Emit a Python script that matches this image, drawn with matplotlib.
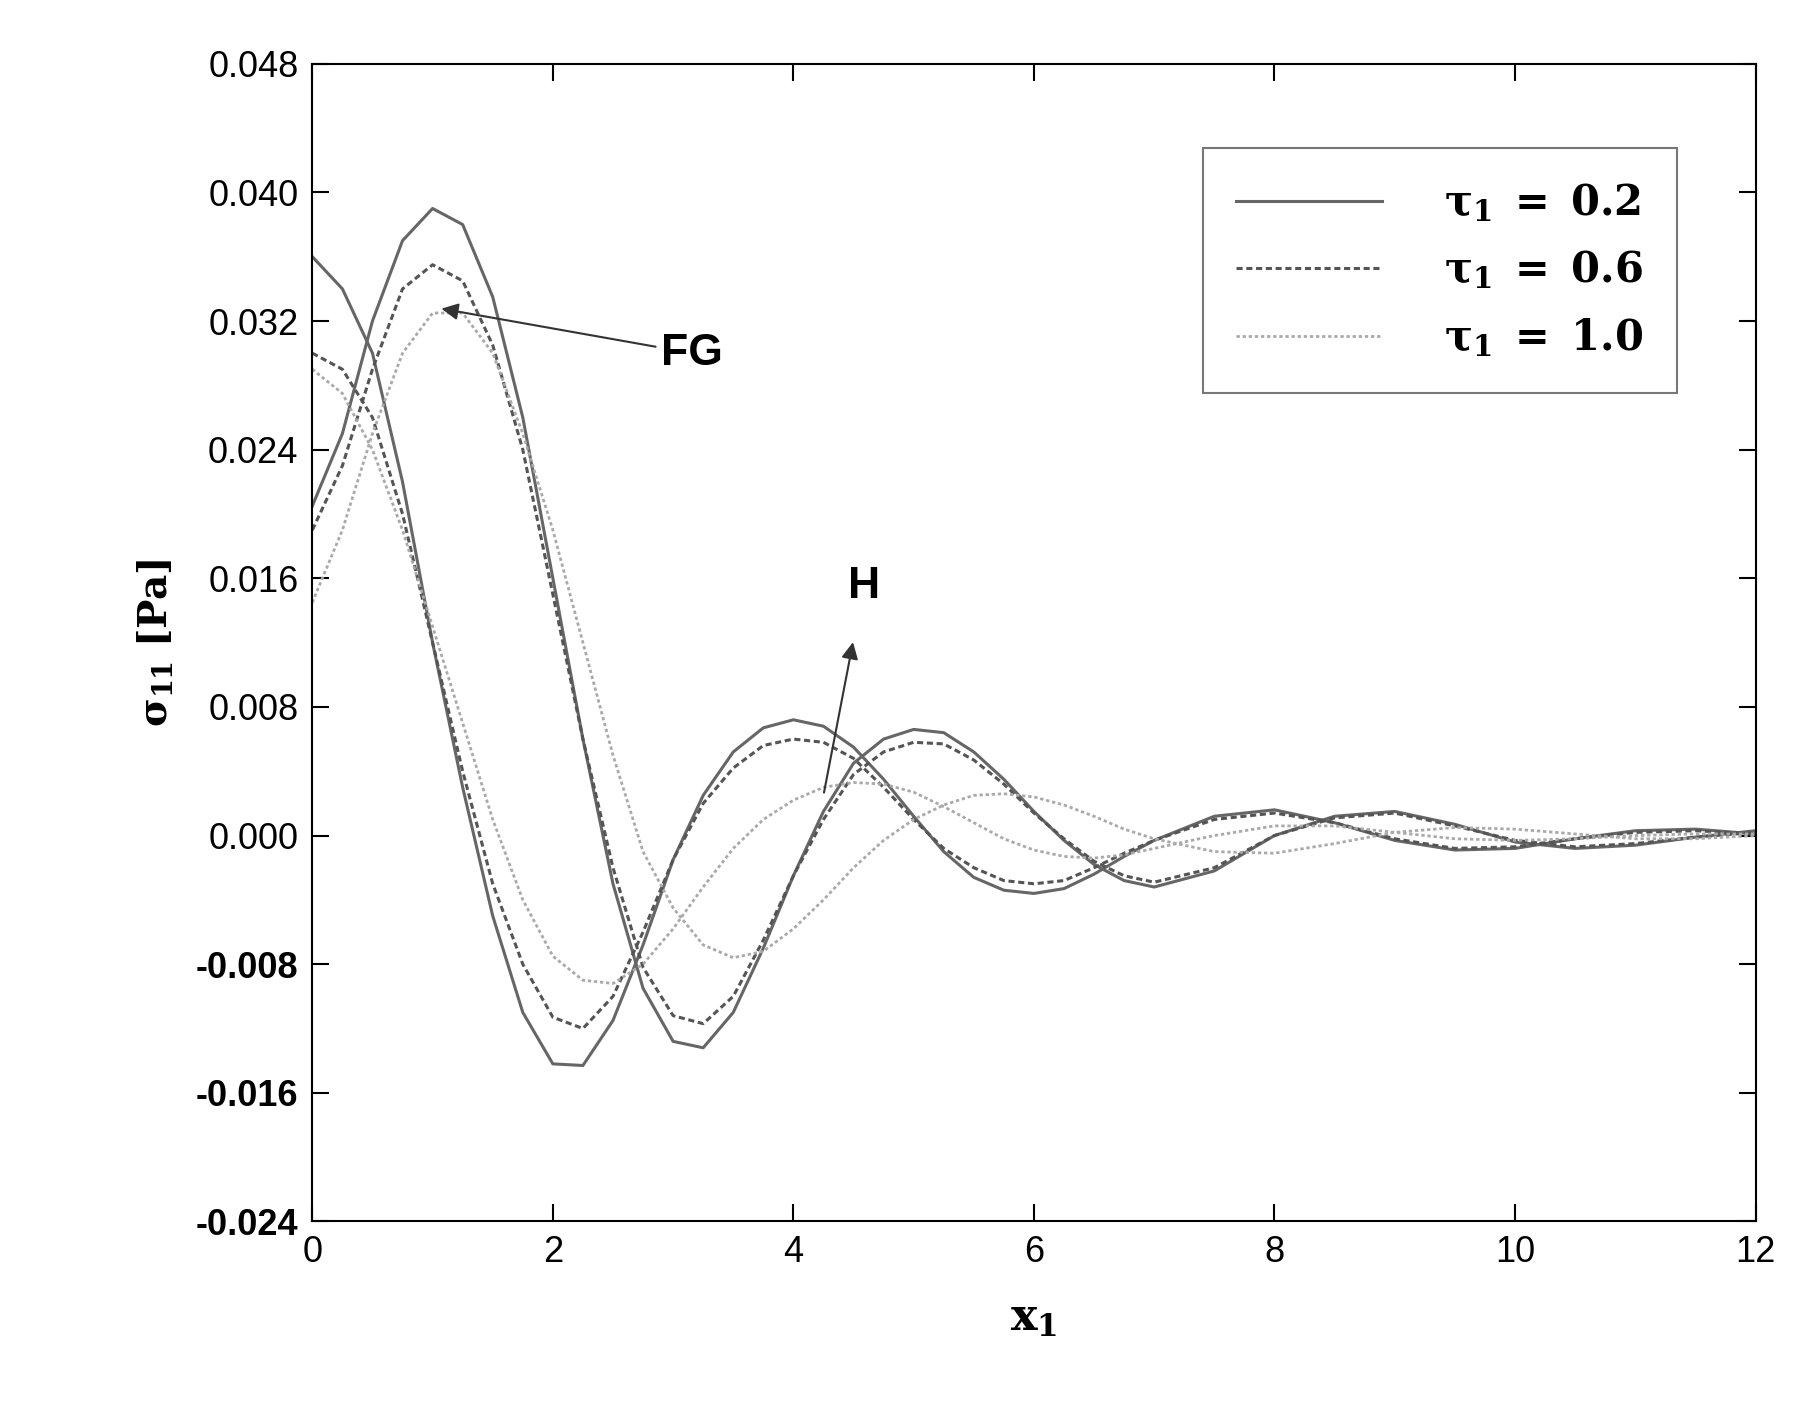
import matplotlib
matplotlib.use("Agg")
import matplotlib.pyplot as plt

x = [0,0.25,0.5,0.75,1,1.25,1.5,1.75,2,2.25,2.5,2.75,3,3.25,3.5,3.75,4,4.25,4.5,4.75,5,5.25,5.5,5.75,6,6.25,6.5,6.75,7,7.5,8,8.5,9,9.5,10,10.5,11,11.5,12]

h_02 = [0.036,0.034,0.030,0.022,0.012,0.003,-0.005,-0.011,-0.0142,-0.0143,-0.0115,-0.0068,-0.0015,0.0025,0.0052,0.0067,0.0072,0.0068,0.0055,0.0035,0.0012,-0.001,-0.0026,-0.0034,-0.0036,-0.0033,-0.0024,-0.0013,-0.0003,0.0012,0.0016,0.0008,-0.0003,-0.0009,-0.0008,-0.0002,0.0003,0.0004,0.0001]
h_06 = [0.030,0.029,0.026,0.020,0.012,0.004,-0.003,-0.008,-0.0113,-0.012,-0.010,-0.006,-0.0015,0.002,0.0042,0.0056,0.006,0.0058,0.0048,0.003,0.001,-0.0008,-0.002,-0.0028,-0.003,-0.0028,-0.002,-0.0011,-0.0003,0.001,0.0014,0.0008,-0.0002,-0.0008,-0.0007,-0.0002,0.0002,0.0003,0.0001]
h_10 = [0.029,0.0275,0.024,0.019,0.013,0.007,0.001,-0.004,-0.0075,-0.009,-0.0092,-0.008,-0.0058,-0.0032,-0.0008,0.001,0.0022,0.003,0.0033,0.0032,0.0027,0.0018,0.0008,-0.0002,-0.0009,-0.0013,-0.0014,-0.0012,-0.0008,0.0,0.0006,0.0006,0.0002,-0.0002,-0.0003,-0.0002,0.0,0.0001,0.0001]
fg_02 = [0.0205,0.025,0.032,0.037,0.039,0.038,0.0335,0.026,0.016,0.006,-0.003,-0.0095,-0.0128,-0.0132,-0.011,-0.007,-0.0025,0.0015,0.0045,0.006,0.0066,0.0064,0.0052,0.0035,0.0015,-0.0003,-0.0018,-0.0028,-0.0032,-0.0022,0.0,0.0012,0.0015,0.0007,-0.0004,-0.0008,-0.0006,-0.0001,0.0003]
fg_06 = [0.019,0.023,0.029,0.034,0.0355,0.0345,0.0305,0.024,0.015,0.006,-0.002,-0.0082,-0.0112,-0.0117,-0.010,-0.0065,-0.0025,0.001,0.0038,0.0052,0.0058,0.0057,0.0047,0.0032,0.0014,-0.0002,-0.0016,-0.0025,-0.0029,-0.002,0.0,0.0011,0.0014,0.0006,-0.0003,-0.0007,-0.0005,-0.0001,0.0002]
fg_10 = [0.0145,0.019,0.025,0.030,0.0325,0.0325,0.030,0.025,0.019,0.012,0.005,-0.001,-0.0045,-0.0068,-0.0076,-0.0072,-0.0058,-0.004,-0.002,-0.0003,0.001,0.0019,0.0025,0.0026,0.0024,0.0019,0.0012,0.0004,-0.0002,-0.001,-0.0011,-0.0005,0.0002,0.0005,0.0004,0.0001,-0.0002,-0.0002,0.0]

labels = [r'$\boldsymbol{\tau_1=0.2}$', r'$\boldsymbol{\tau_1=0.6}$', r'$\boldsymbol{\tau_1=1.0}$']
labels = [r'$\mathbf{\tau_1\ =\ 0.2}$', r'$\mathbf{\tau_1\ =\ 0.6}$', r'$\mathbf{\tau_1\ =\ 1.0}$']
yticks = [-0.024,-0.016,-0.008,0.0,0.008,0.016,0.024,0.032,0.040,0.048]
ytl = ['-0.024','-0.016','-0.008','0.000','0.008','0.016','0.024','0.032','0.040','0.048']

plt.rcParams['font.family'] = ['Liberation Sans', 'DejaVu Sans']
plt.rcParams['mathtext.fontset'] = 'dejavuserif'
fig = plt.figure(figsize=(17.95, 14.17), dpi=100)
ax = fig.add_axes([0.174, 0.138, 0.804, 0.817])

styles = [dict(color='#666666', ls='-', lw=2.2),
          dict(color='#555555', ls=(0, (2, 1.2)), lw=2.2),
          dict(color='#aaaaaa', ls=(0, (1.2, 1)), lw=2.0)]
for i, (h, f) in enumerate([(h_02, fg_02), (h_06, fg_06), (h_10, fg_10)]):
    ax.plot(x, f, label=labels[i], **styles[i])
    ax.plot(x, h, **styles[i])

ax.set_xlim(0, 12)
ax.set_ylim(-0.024, 0.048)
ax.set_xticks([0, 2, 4, 6, 8, 10, 12])
ax.set_yticks(yticks)
ax.set_yticklabels(ytl)
for t in ax.get_yticklabels():
    if t.get_text().startswith('-'):
        t.set_fontweight('bold')
ax.tick_params(direction='in', length=12, width=1.5, labelsize=26, top=True, right=True, pad=10)
for s in ax.spines.values():
    s.set_linewidth(1.5)
ax.set_xlabel(r'$\mathbf{x_1}$', fontsize=32, labelpad=20)
ax.set_ylabel(r'$\mathbf{\sigma_{11}\ [Pa]}$', fontsize=28, labelpad=15)

ax.annotate('FG', xy=(1.05, 0.0328), xytext=(2.9, 0.030), fontsize=32, fontweight='bold',
            va='center', arrowprops=dict(arrowstyle='-|>', color='#333333', lw=1.5, mutation_scale=25))
ax.annotate('', xy=(4.5, 0.0122), xytext=(4.25, 0.0025),
            arrowprops=dict(arrowstyle='-|>', color='#333333', lw=1.5, mutation_scale=25))
ax.text(4.45, 0.0148, 'H', fontsize=32, fontweight='bold')

leg = ax.legend(loc='upper right', fontsize=30, handlelength=3.5, borderpad=0.8,
                labelspacing=0.6, handletextpad=1.5, fancybox=False, edgecolor='#555555',
                bbox_to_anchor=(0.96, 0.945))
leg.get_frame().set_linewidth(1.5)
fig.savefig('out.png', dpi=100)
